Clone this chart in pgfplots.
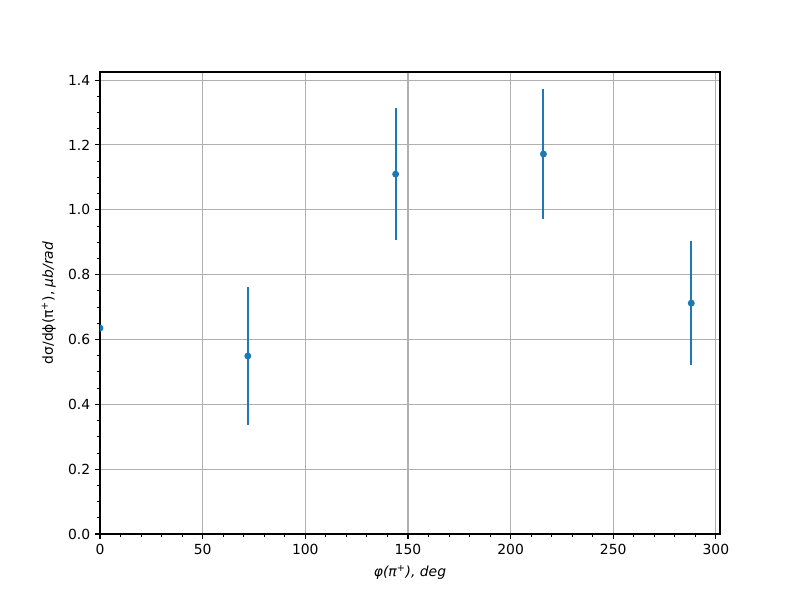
\documentclass[border=0pt]{standalone}
\usepackage{pgfplots}
\pgfplotsset{compat=1.18}
\usepackage{fontspec}
\setmainfont{DejaVu Sans}
\newfontfamily\obl{DejaVu Sans Oblique}
\definecolor{tabblue}{HTML}{1F77B4}
\begin{document}
\begin{tikzpicture}
\begin{axis}[
  scale only axis,
  width=446.4pt, height=332.64pt,
  xmin=0, xmax=302, ymin=0, ymax=1.425,
  xtick={0,50,100,150,200,250,300},
  ytick={0,0.2,0.4,0.6,0.8,1.0,1.2,1.4},
  minor x tick num=4,
  minor y tick num=3,
  tick align=outside,
  major tick length=3.5pt,
  minor tick length=2pt,
  every tick/.style={black, line width=0.8pt},
  minor tick style={line width=0.6pt},
  xtick pos=bottom, ytick pos=left,
  axis line style={line width=0.8pt},
  grid=major,
  major grid style={color=black!31, line width=0.8pt},
  clip marker paths=true,
  /pgf/number format/assume math mode=true,
  /pgf/number format/.cd, fixed, fixed zerofill, precision=1, /pgfplots/.cd,
  xticklabel style={/pgf/number format/precision=0, /pgf/number format/fixed zerofill=false},
  tick label style={font=\fontsize{10}{12}\selectfont},
  xlabel={{\obl φ(π\textsuperscript{+}), deg}},
  ylabel={dσ/dϕ(π\textsuperscript{+}), {\obl μb/rad}},
  label style={font=\fontsize{10}{12}\selectfont},
  xlabel style={yshift=-1pt},
  ylabel style={yshift=2pt},
]
\addplot[color=tabblue, only marks, mark=*, mark size=1.7pt, line width=1.5pt,
  error bars/.cd, y dir=both, y explicit, error mark=none,
  error bar style={line width=1.5pt, color=tabblue}]
  coordinates {
  (0,0.635) +- (0,0)
  (72,0.549) +- (0,0.213)
  (144,1.110) +- (0,0.204)
  (216,1.172) +- (0,0.201)
  (288,0.712) +- (0,0.192)
  };
\end{axis}
\pgfresetboundingbox
\path[use as bounding box] ([shift={(-72pt,-47.52pt)}]current axis.south west) rectangle ([shift={(57.6pt,51.84pt)}]current axis.north east);
\end{tikzpicture}
\end{document}
